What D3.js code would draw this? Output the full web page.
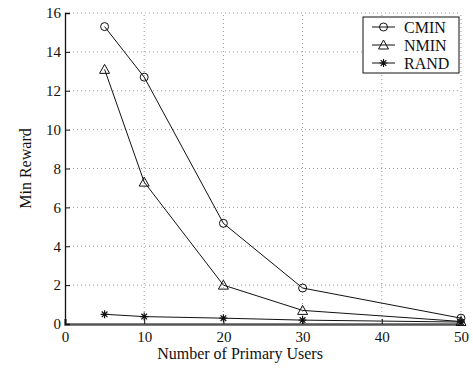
<!DOCTYPE html>
<html>
<head>
<meta charset="utf-8">
<script src="https://cdn.jsdelivr.net/npm/d3@7"></script>
<style>
  body { margin: 0; background: #fff; }
</style>
</head>
<body>
<svg id="chart" width="473" height="372"></svg>
<script>
// data
const users = [5, 10, 20, 30, 50];
const cmin = [15.3, 12.7, 5.18, 1.85, 0.3];
const nmin = [13.1, 7.3, 2.0, 0.7, 0.13];
const rand = [0.5, 0.38, 0.3, 0.2, 0.1];
const xTicks = [0, 10, 20, 30, 40, 50];
const yTicks = [0, 2, 4, 6, 8, 10, 12, 14, 16];

const series = [
  { name: "CMIN", values: cmin, marker: "circle" },
  { name: "NMIN", values: nmin, marker: "triangle" },
  { name: "RAND", values: rand, marker: "star" }
];

const FONT = "'Liberation Serif', 'Times New Roman', serif";

const svg = d3.select("#chart");
const margin = { left: 65, right: 12, top: 13, bottom: 48 };
const width = 473, height = 372;

const x = d3.scaleLinear().domain([0, 50]).range([margin.left, width - margin.right]);
const y = d3.scaleLinear().domain([0, 16]).range([height - margin.bottom, margin.top]);

// grid
const grid = svg.append("g").attr("stroke", "#999").attr("stroke-dasharray", "1,3").attr("stroke-width", 1);
grid.selectAll("line.gx").data(xTicks.filter(d => d > 0)).join("line")
  .attr("x1", d => x(d)).attr("x2", d => x(d))
  .attr("y1", y(0)).attr("y2", y(16));
grid.selectAll("line.gy").data(yTicks.filter(d => d > 0)).join("line")
  .attr("x1", x(0)).attr("x2", x(50))
  .attr("y1", d => y(d)).attr("y2", d => y(d));

// axes
const xAxis = svg.append("g")
  .attr("transform", `translate(0,${y(0)})`)
  .call(d3.axisBottom(x).tickValues(xTicks).tickSize(-5).tickPadding(7));
const yAxis = svg.append("g")
  .attr("transform", `translate(${x(0)},0)`)
  .call(d3.axisLeft(y).tickValues(yTicks).tickSize(-5).tickPadding(4));

[xAxis, yAxis].forEach(a => {
  a.attr("font-family", null).attr("font-size", null);
  a.select(".domain").attr("stroke", "#111").attr("stroke-width", 1.3);
  a.selectAll(".tick line").attr("stroke", "#111");
  a.selectAll(".tick text")
    .style("font-family", FONT)
    .style("font-size", "15px")
    .attr("fill", "#111");
});
xAxis.select(".domain").attr("stroke", "#555").attr("stroke-width", 2.5);

svg.append("text")
  .attr("x", 240).attr("y", 359)
  .attr("text-anchor", "middle")
  .style("font-family", FONT).style("font-size", "16px")
  .attr("fill", "#111")
  .text("Number of Primary Users");

svg.append("text")
  .attr("transform", `translate(31,${(y(0) + y(16)) / 2}) rotate(-90)`)
  .attr("text-anchor", "middle")
  .style("font-family", FONT).style("font-size", "16px")
  .attr("fill", "#111")
  .text("Min Reward");

const line = d3.line().x((d, i) => x(users[i])).y(d => y(d));

function drawMarker(g, type, cx, cy) {
  if (type === "circle") {
    g.append("circle").attr("cx", cx).attr("cy", cy).attr("r", 4)
      .attr("fill", "none").attr("stroke", "#111").attr("stroke-width", 1);
  } else if (type === "triangle") {
    const s = 5;
    g.append("path")
      .attr("d", `M${cx},${cy - s}L${cx + s},${cy + s * 0.8}L${cx - s},${cy + s * 0.8}Z`)
      .attr("fill", "none").attr("stroke", "#111").attr("stroke-width", 1);
  } else {
    const s = 4;
    const p = [];
    [0, 45, 90, 135].forEach(a => {
      const r = a * Math.PI / 180;
      p.push(`M${cx - s * Math.cos(r)},${cy - s * Math.sin(r)}L${cx + s * Math.cos(r)},${cy + s * Math.sin(r)}`);
    });
    g.append("path").attr("d", p.join("")).attr("stroke", "#111").attr("stroke-width", 1.2);
  }
}

series.forEach(s => {
  const g = svg.append("g");
  g.append("path").datum(s.values).attr("d", line)
    .attr("fill", "none").attr("stroke", "#111").attr("stroke-width", 1);
  s.values.forEach((v, i) => drawMarker(g, s.marker, x(users[i]), y(v)));
});

// legend
const lg = svg.append("g").attr("transform", "translate(363,17)");
lg.append("rect").attr("width", 96).attr("height", 56)
  .attr("fill", "#fff").attr("stroke", "#111").attr("stroke-width", 1);
series.forEach((s, i) => {
  const ly = 10 + i * 18;
  lg.append("line").attr("x1", 9).attr("x2", 32).attr("y1", ly).attr("y2", ly)
    .attr("stroke", "#111");
  drawMarker(lg, s.marker, 20.5, ly);
  lg.append("text").attr("x", 41).attr("y", ly + 5.5)
    .style("font-family", FONT).style("font-size", "16px")
    .attr("fill", "#111")
    .text(s.name);
});
</script>
</body>
</html>
